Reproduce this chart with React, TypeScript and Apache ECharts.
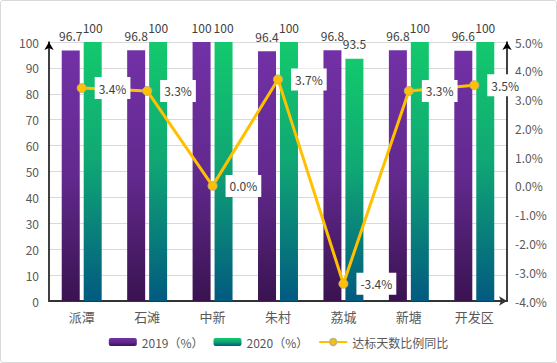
import React, { useEffect, useRef } from "react";
import * as echarts from "echarts";

const categories = ["派潭", "石滩", "中新", "朱村", "荔城", "新塘", "开发区"];
const values2019 = [96.7, 96.8, 100, 96.4, 96.8, 96.8, 96.6];
const values2020 = [100, 100, 100, 100, 93.5, 100, 100];
const yoyChange = [3.4, 3.3, 0.0, 3.7, -3.4, 3.3, 3.5];
const seriesNames = ["2019（%）", "2020（%）", "达标天数比例同比"];

const FONT = '"Noto Sans CJK SC", "Noto Sans", sans-serif';

export default function App() {
  const ref = useRef<HTMLDivElement>(null);
  useEffect(() => {
    document.body.style.margin = "0";
    const chart = echarts.init(ref.current!, null, { renderer: "svg" });
    const purple = new echarts.graphic.LinearGradient(0, 0, 0, 1, [
      { offset: 0, color: "#7231A6" },
      { offset: 0.5, color: "#62298E" },
      { offset: 1, color: "#3A1350" },
    ]);
    const green = new echarts.graphic.LinearGradient(0, 0, 0, 1, [
      { offset: 0, color: "#13C96D" },
      { offset: 0.45, color: "#10A874" },
      { offset: 1, color: "#025A80" },
    ]);
    chart.setOption({
      animation: false,
      textStyle: { fontFamily: FONT },
      grid: { left: 48, right: 49, top: 41, bottom: 61, containLabel: false },
      legend: {
        bottom: 9,
        left: "center",
        itemWidth: 28,
        itemHeight: 8,
        itemGap: 10,
        textStyle: { fontSize: 12, color: "#595959", fontFamily: FONT },
        data: seriesNames,
      },
      xAxis: {
        type: "category",
        data: categories,
        axisTick: { show: false },
        axisLine: {
          show: true,
          symbol: ["none", "arrow"],
          symbolSize: [7, 8],
          lineStyle: { color: "#333333", width: 2 },
        },
        axisLabel: { fontSize: 13, color: "#595959", margin: 9, fontFamily: FONT },
      },
      yAxis: [
        {
          type: "value",
          min: 0,
          max: 100,
          interval: 10,
          axisLine: {
            show: true,
            symbol: ["none", "arrow"],
            symbolSize: [7, 8],
            lineStyle: { color: "#000000", width: 1.5 },
          },
          axisTick: { show: false },
          splitLine: { lineStyle: { color: "#D9D9D9", width: 1 } },
          axisLabel: { fontSize: 12, color: "#595959", margin: 10, fontFamily: FONT },
        },
        {
          type: "value",
          min: -4,
          max: 5,
          interval: 1,
          position: "right",
          axisLine: {
            show: true,
            symbol: ["none", "arrow"],
            symbolSize: [7, 8],
            lineStyle: { color: "#000000", width: 1.5 },
          },
          axisTick: { show: false },
          splitLine: { show: false },
          axisLabel: {
            fontSize: 12,
            color: "#595959",
            margin: 8,
            fontFamily: FONT,
            formatter: (v: number) => `${v.toFixed(1)}%`,
          },
        },
      ],
      series: [
        {
          name: seriesNames[0],
          type: "bar",
          data: values2019,
          barWidth: 18,
          barGap: "22%",
          itemStyle: { color: purple },
          label: {
            show: true,
            position: "top",
            distance: 9,
            fontSize: 12,
            color: "#404040",
            fontFamily: FONT,
          },
        },
        {
          name: seriesNames[1],
          type: "bar",
          data: values2020,
          barWidth: 18,
          barGap: "22%",
          itemStyle: { color: green },
          label: {
            show: true,
            position: "top",
            distance: 9,
            fontSize: 12,
            color: "#404040",
            fontFamily: FONT,
          },
        },
        {
          name: seriesNames[2],
          type: "line",
          yAxisIndex: 1,
          data: yoyChange,
          z: 5,
          symbol: "circle",
          symbolSize: 9,
          lineStyle: { color: "#FFC000", width: 3 },
          itemStyle: { color: "#FFC000", borderColor: "#C9B27A", borderWidth: 1 },
          label: {
            show: true,
            position: "right",
            distance: 8,
            fontSize: 12,
            color: "#404040",
            fontFamily: FONT,
            backgroundColor: "#FFFFFF",
            padding: [5, 4],
            formatter: (p: any) => `${Number(p.value).toFixed(1)}%`,
          },
        },
      ],
    });
    return () => chart.dispose();
  }, []);
  return (
    <div
      ref={ref}
      style={{
        width: 557,
        height: 363,
        boxSizing: "border-box",
        border: "1px solid #D9D9D9",
        borderRadius: 3,
        background: "#FFFFFF",
      }}
    />
  );
}
